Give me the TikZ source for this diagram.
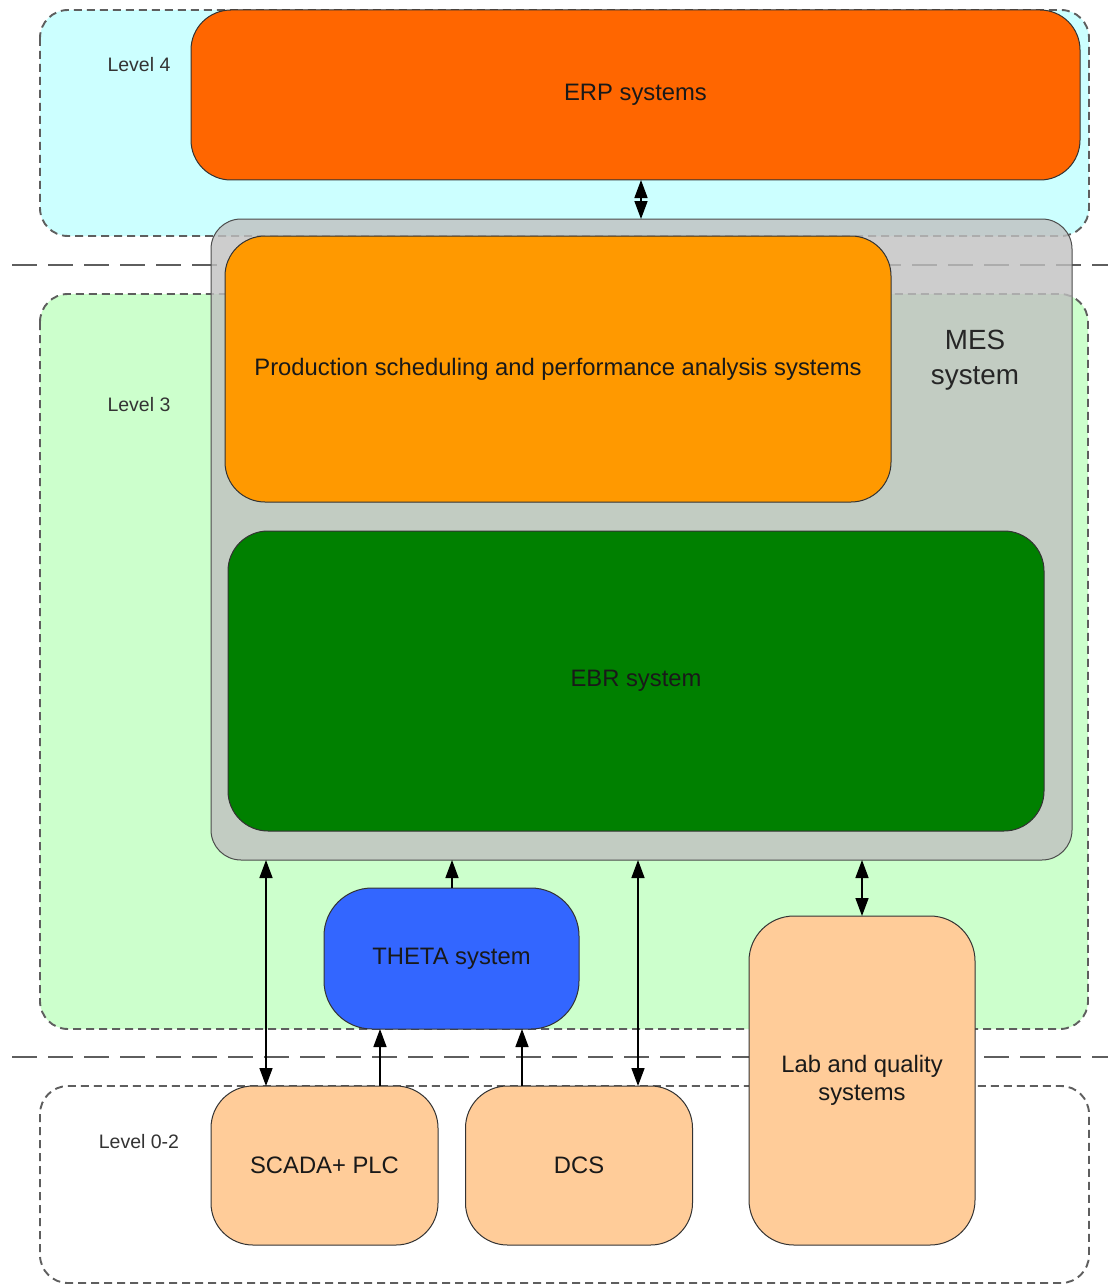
\documentclass[tikz,border=0pt]{standalone}
\usepackage{fontspec}
\setmainfont{Liberation Sans}
\usetikzlibrary{arrows.meta}

\definecolor{lvlfour}{HTML}{CCFFFF}
\definecolor{lvlthree}{HTML}{CCFFCC}
\definecolor{erpcol}{HTML}{FF6600}
\definecolor{prodcol}{HTML}{FF9900}
\definecolor{ebrcol}{HTML}{008000}
\definecolor{thetacol}{HTML}{3366FF}
\definecolor{peach}{HTML}{FFCC99}
\definecolor{mescol}{HTML}{C0C0C0}
\definecolor{edgecol}{HTML}{333333}
\definecolor{dashcol}{HTML}{5E5E5E}

\tikzset{
  lvlarea/.style={draw=dashcol, line width=1.9pt, dash pattern=on 8pt off 5pt, rounded corners=28pt},
  sepline/.style={draw=dashcol, line width=2pt, dash pattern=on 25pt off 11pt},
  sysbox/.style={draw=edgecol, line width=1pt, rounded corners=40pt, inner sep=0pt, outer sep=0pt,
    font=\fontsize{23.8}{28}\selectfont, text=black!90, align=center},
  lvltext/.style={font=\fontsize{19.5}{23}\selectfont, text=edgecol},
  tip/.style={},
  link/.style={line width=1.5pt, -{Triangle[length=18pt,width=13pt]}},
  bilink/.style={line width=1.5pt, {Triangle[length=18pt,width=13pt]}-{Triangle[length=18pt,width=13pt]}},
}

\begin{document}
\begin{tikzpicture}[x=1pt,y=-1pt]
\useasboundingbox (0,0) rectangle (1108,1284);

% level areas
\path[lvlarea, fill=lvlfour] (40,10) rectangle (1089,236);
\path[lvlarea, fill=lvlthree] (40,294) rectangle (1088,1029);
\path[lvlarea, fill=white] (40,1086) rectangle (1089,1283);

% level separators
\draw[sepline] (12,265) -- (1108,265);
\draw[sepline] (12,1057) -- (1108,1057);

% level labels
\node[lvltext] (l4) at (139,65) {Level 4};
\node[lvltext] (l3) at (139,405) {Level 3};
\node[lvltext] (l02) at (139,1142) {Level 0-2};

% MES container
\node[draw=black!70, line width=1pt, fill=mescol, fill opacity=0.8, rounded corners=30pt,
      minimum width=861pt, minimum height=641pt, inner sep=0pt, outer sep=0pt] (mes) at (641.5,539.5) {};
\node[font=\fontsize{27.8}{35}\selectfont, text=black!85, align=center] (mestext) at (975,360) {MES\\system};

% systems
\node[sysbox, fill=erpcol, minimum width=889pt, minimum height=170pt] (erp) at (635.5,95) {ERP systems};
\node[sysbox, fill=prodcol, minimum width=666pt, minimum height=266pt] (prod) at (558,369)
  {Production scheduling and performance analysis systems};
\node[sysbox, fill=ebrcol, minimum width=816pt, minimum height=300pt] (ebr) at (636,681) {EBR system};
\node[sysbox, fill=thetacol, rounded corners=48pt, minimum width=255pt, minimum height=141pt] (theta) at (451.5,958.5) {THETA system};
\node[sysbox, fill=peach, rounded corners=45pt, minimum width=226pt, minimum height=329pt] (lab) at (862,1080.5) {Lab and quality\\systems};
\node[sysbox, fill=peach, rounded corners=42pt, minimum width=227pt, minimum height=159pt] (scada) at (324.5,1165.5) {SCADA+ PLC};
\node[sysbox, fill=peach, rounded corners=42pt, minimum width=227pt, minimum height=159pt] (dcs) at (579,1165.5) {DCS};

% connector columns
\coordinate (cerp) at (641,0);
\coordinate (cscada) at (266,0);
\coordinate (cscadaup) at (380,0);
\coordinate (ctheta) at (452,0);
\coordinate (cdcsup) at (522,0);
\coordinate (cdcs) at (638,0);
\coordinate (clab) at (862,0);

% connectors
\draw[bilink] (erp.south -| cerp) -- (mes.north -| cerp);
\draw[bilink] (mes.south -| cscada) -- (scada.north -| cscada);
\draw[link] (theta.north -| ctheta) -- (mes.south -| ctheta);
\draw[link] (scada.north -| cscadaup) -- (theta.south -| cscadaup);
\draw[link] (dcs.north -| cdcsup) -- (theta.south -| cdcsup);
\draw[bilink] (mes.south -| cdcs) -- (dcs.north -| cdcs);
\draw[bilink] (mes.south -| clab) -- (lab.north -| clab);
\end{tikzpicture}
\end{document}
